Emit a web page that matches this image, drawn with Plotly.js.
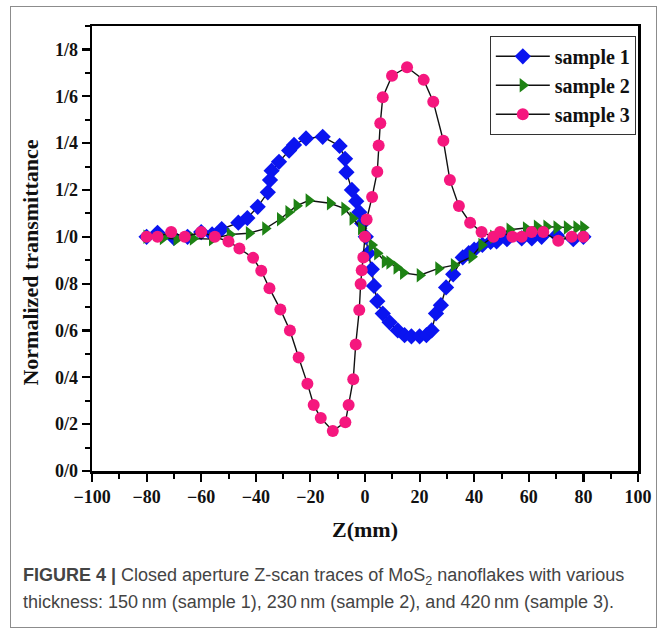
<!DOCTYPE html>
<html>
<head>
<meta charset="utf-8">
<script src="https://cdn.plot.ly/plotly-3.0.1.min.js"></script>
<style>
  html, body { margin: 0; padding: 0; background: #fff; }
  #wrap { position: relative; width: 667px; height: 631px; overflow: hidden; }
  #frame { position: absolute; left: 10px; top: 6px; width: 645px; height: 620px; border: 1.5px solid #8c8c8c; }
  #chart { position: absolute; left: 0; top: 0; width: 667px; height: 631px; }
</style>
</head>
<body>
<div id="wrap">
  <div id="frame"></div>
  <div id="chart"></div>
</div>
<script>
// ---- data ----
const seriesNames = ["sample 1", "sample 2", "sample 3"];

const z1 = [-80, -76, -70, -65, -60, -56, -52.5, -46.4, -43.1, -39.3, -35.6, -34.8, -34.2, -31.5, -27.8, -26, -21.6, -15.5, -9.3, -7.3, -6.8, -4.8, -3.2, -2.1, -1.0, 0.3, 1.2, 2.5, 3.3, 4.5, 6.5, 9, 12, 14.5, 17, 20, 22.5, 24.4, 26, 27.8, 29.7, 32.3, 35.8, 38, 40, 43, 46, 48.2, 52, 57.4, 61.1, 64.7, 70.2, 76.3, 80];
const t1 = [1.0, 1.017, 0.995, 1.0, 1.02, 1.01, 1.033, 1.06, 1.08, 1.128, 1.19, 1.242, 1.282, 1.32, 1.368, 1.392, 1.42, 1.427, 1.388, 1.333, 1.276, 1.2, 1.152, 1.105, 1.057, 1.0, 0.93, 0.861, 0.79, 0.725, 0.672, 0.635, 0.6, 0.58, 0.575, 0.575, 0.58, 0.6, 0.673, 0.708, 0.784, 0.84, 0.912, 0.93, 0.945, 0.965, 0.978, 0.98, 0.99, 0.993, 0.993, 1.0, 1.007, 0.99, 1.0];

const z2 = [-80, -74, -69, -63, -56, -49.5, -42.5, -36.5, -31.1, -28, -25, -20.6, -12.8, -7.5, -4.5, -1.4, 2.5, 4.5, 7.3, 9, 11.6, 14, 20.1, 26.9, 32.6, 39.1, 42.7, 47, 53, 59, 63, 66.5, 70.2, 74, 77.5, 80];
const t2 = [1.0, 0.995, 0.99, 0.993, 0.99, 1.01, 1.015, 1.035, 1.075, 1.105, 1.133, 1.155, 1.143, 1.12, 1.078, 1.036, 0.965, 0.93, 0.895, 0.89, 0.869, 0.846, 0.836, 0.865, 0.879, 0.915, 0.965, 1.0, 1.03, 1.036, 1.043, 1.043, 1.04, 1.04, 1.04, 1.04];

const z3 = [-80, -76, -71, -66, -60, -55, -50, -46, -41, -38, -35, -31, -27.5, -24.3, -21.1, -18.8, -16.2, -11.8, -7.2, -6, -4.3, -3.4, -2.1, -1.6, -1.2, -0.6, 0, 0.6, 2.6, 4.5, 5.0, 5.6, 6.5, 9.9, 15.4, 21.5, 25, 28.7, 31.1, 34.4, 38.5, 42.7, 47, 49.5, 54, 57.4, 61, 65.3, 70.8, 75.7, 80];
const t3 = [1.0, 1.0, 1.02, 1.0, 1.02, 1.0, 0.98, 0.95, 0.91, 0.855, 0.78, 0.69, 0.6, 0.485, 0.373, 0.282, 0.226, 0.171, 0.208, 0.282, 0.392, 0.54, 0.687, 0.798, 0.857, 0.912, 1.0, 1.074, 1.17, 1.278, 1.39, 1.485, 1.596, 1.688, 1.724, 1.67, 1.577, 1.41, 1.242, 1.131, 1.06, 1.02, 1.0, 1.02, 1.0, 1.0, 1.02, 1.02, 0.983, 1.0, 1.0];

const xTickVals = [-100, -80, -60, -40, -20, 0, 20, 40, 60, 80, 100];
const yTickVals = [0, 0.2, 0.4, 0.6, 0.8, 1.0, 1.2, 1.4, 1.6, 1.8];
const yTickText = ["0/0", "0/2", "0/4", "0/6", "0/8", "1/0", "1/2", "1/4", "1/6", "1/8"];

const yTitle = "<b>Normalized transmittance</b>";
const xTitle = "<b>Z(mm)</b>";
const captionLine1 = "<b>FIGURE 4 |</b> Closed aperture Z-scan traces of MoS<sub>2</sub> nanoflakes with various";
const captionLine2 = "thickness: 150\u2009nm (sample 1), 230\u2009nm (sample 2), and 420\u2009nm (sample 3).";

// ---- styling ----
const serif = "Liberation Serif, Times New Roman, serif";
const sans = "Liberation Sans, Arial, sans-serif";
const lineStyle = {color: "#111", width: 1.4};

const traces = [
  {x: z1, y: t1, name: seriesNames[0], type: "scatter", mode: "lines+markers",
   line: lineStyle, marker: {symbol: "diamond", size: 12.5, color: "#0a14f0"}},
  {x: z2, y: t2, name: seriesNames[1], type: "scatter", mode: "lines+markers",
   line: lineStyle, marker: {symbol: "triangle-right", size: 12.5, color: "#1e8214"}},
  {x: z3, y: t3, name: seriesNames[2], type: "scatter", mode: "lines+markers",
   line: lineStyle, marker: {symbol: "circle", size: 12, color: "#f5177e"}}
];

const axisCommon = {
  showgrid: false, zeroline: false, showline: true, mirror: true,
  linecolor: "#000", linewidth: 2.5,
  ticks: "outside", ticklen: 8, tickwidth: 2.2, tickcolor: "#000",
  tickfont: {family: serif, size: 18, color: "#111", weight: "bold"}
};

const layout = {
  width: 667, height: 631,
  margin: {l: 92, r: 29, t: 26, b: 160},
  paper_bgcolor: "rgba(0,0,0,0)", plot_bgcolor: "#fff",
  showlegend: true,
  xaxis: Object.assign({}, axisCommon, {
    range: [-100, 100], tickvals: xTickVals,
    minor: {dtick: 10, ticks: "outside", ticklen: 5, tickwidth: 2, tickcolor: "#000"},
    title: {text: xTitle, font: {family: serif, size: 22, color: "#111"}, standoff: 16}
  }),
  yaxis: Object.assign({}, axisCommon, {
    range: [0, 1.9], tickvals: yTickVals, ticktext: yTickText,
    minor: {dtick: 0.1, ticks: "outside", ticklen: 5, tickwidth: 2, tickcolor: "#000"}
  }),
  legend: {
    x: 0.996, xanchor: "right", y: 0.978, yanchor: "top",
    bgcolor: "#fff", bordercolor: "#333", borderwidth: 1,
    font: {family: serif, size: 20, color: "#111", weight: "bold"},
    tracegroupgap: 0, itemwidth: 54
  },
  annotations: [
    {xref: "paper", yref: "paper", x: -0.112, y: 0.468, xanchor: "center", yanchor: "middle",
     textangle: -90, text: yTitle, showarrow: false,
     font: {family: serif, size: 22, color: "#111"}},
    {xref: "paper", yref: "paper", x: -0.13, y: -0.238, xanchor: "left", yanchor: "middle",
     text: captionLine1, showarrow: false, align: "left",
     font: {family: sans, size: 18, color: "#444"}},
    {xref: "paper", yref: "paper", x: -0.13, y: -0.294, xanchor: "left", yanchor: "middle",
     text: captionLine2, showarrow: false, align: "left",
     font: {family: sans, size: 18, color: "#444"}}
  ]
};

Plotly.newPlot("chart", traces, layout, {displayModeBar: false, staticPlot: true});
</script>
</body>
</html>
